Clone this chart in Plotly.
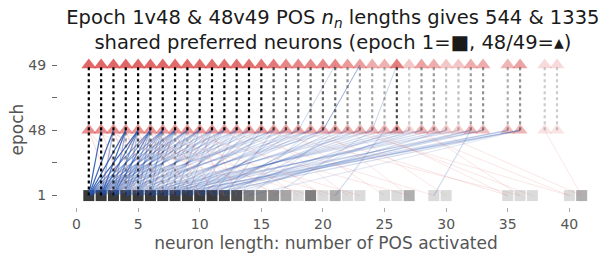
import numpy as np
import plotly.graph_objects as go

# ---------------- data ----------------
epoch_labels = ["1", "48", "49"]

# epoch 1 preferred-neuron lengths and neuron counts
e1_len = [1, 2, 3, 4, 5, 6, 7, 8, 9, 10, 11, 12, 13, 14, 15, 16, 17, 18, 19, 20,
          21, 22, 23, 25, 26, 27, 29, 30, 35, 36, 37, 40, 41]
e1_cnt = [120, 95, 80, 70, 60, 55, 45, 40, 35, 30, 26, 19, 18, 13, 12, 12, 9, 3, 13, 3,
          8, 3, 3, 3, 3, 8, 3, 3, 3, 3, 3, 3, 8]

# epoch 48 / 49 lengths and neuron counts
tri_len = list(range(1, 34)) + [35, 36, 38, 39]
e48_cnt = [24, 24, 24, 23, 23, 23, 22, 22, 22, 22, 22, 21, 21, 21, 21, 20, 20, 19, 19, 19,
           19, 17, 17, 16, 15, 21, 8, 16, 14, 10, 10, 16, 14, 14, 16, 6, 6]
e49_cnt = [34, 34, 34, 34, 33, 33, 33, 32, 32, 32, 32, 31, 31, 31, 30, 29, 26, 26, 26, 26,
           26, 22, 21, 18, 17, 28, 12, 20, 18, 12, 12, 18, 18, 16, 20, 8, 8]

# shared neurons, epoch 48 -> 49 (same length, dotted)
e48_49_shared = [30, 30, 30, 30, 30, 30, 29, 29, 29, 28, 28, 28, 27, 27, 26, 20, 18, 18, 17, 17,
                 17, 12, 11, 10, 9, 20, 6, 12, 11, 7, 7, 11, 12, 9, 12, 5, 5]
# shared neurons, epoch 48 -> 49 (length changed)
e48_49_src = [20, 18, 24]
e48_49_dst = [23, 21, 26]
e48_49_n = [2, 1, 1]

# shared neurons, epoch 1 -> 48 (same length, dotted)
e1_48_same_len = [1, 2, 3, 4, 5, 6, 7, 8, 9]
e1_48_same_n = [30, 26, 20, 10, 18, 14, 8, 8, 5]

# shared neurons, epoch 1 -> 48 (length changed)
e1_48_src = [1, 1, 1, 1, 1, 1, 1, 1, 1, 1, 1, 1, 1, 1,
             2, 2, 2, 2, 2, 2, 2, 2, 2, 2, 2, 2,
             3, 3, 3, 3, 3, 3, 3, 3, 3, 3, 3, 3,
             4, 4, 4, 4, 4, 4, 4, 4, 4, 4, 4,
             5, 5, 5, 5, 5, 5, 5, 5, 5, 5, 5,
             6, 6, 6, 6, 6, 6, 6, 6, 6, 6,
             7, 7, 7, 7, 7, 7, 7, 7, 7,
             8, 8, 8, 8, 8, 8, 8,
             9, 9, 9, 9, 9, 9,
             10, 10, 10, 10, 10,
             11, 11, 11, 11,
             12, 12, 12, 13, 13, 14, 14, 16, 21, 29,
             3, 4, 5, 6, 7, 8, 9, 10, 11, 12, 13,
             5, 8, 10, 12, 14, 16, 18, 20, 22, 25, 27, 30,
             35, 36, 37, 40, 41, 41, 40, 35, 36, 29, 27, 23, 21, 19, 17]
e1_48_dst = [2, 3, 4, 5, 6, 7, 8, 9, 10, 11, 12, 13, 15, 17,
             3, 4, 5, 6, 7, 8, 9, 10, 12, 14, 16, 19,
             4, 5, 6, 7, 8, 9, 10, 11, 13, 16, 18, 21,
             5, 6, 7, 8, 10, 12, 14, 17, 20, 24, 28,
             6, 7, 8, 9, 11, 13, 15, 19, 23, 27, 31,
             7, 8, 10, 12, 14, 18, 22, 26, 30, 33,
             9, 11, 13, 16, 20, 25, 29, 35, 36,
             10, 12, 15, 19, 24, 32, 36,
             11, 14, 18, 23, 33, 35,
             13, 17, 21, 28, 36,
             15, 20, 26, 32,
             16, 22, 30, 19, 27, 21, 36, 24, 25, 32,
             1, 2, 3, 4, 5, 6, 7, 8, 9, 10, 11,
             1, 3, 5, 6, 8, 9, 10, 12, 15, 17, 20, 22,
             24, 28, 23, 27, 29, 38, 22, 18, 15, 12, 8, 5, 3, 2, 1]
e1_48_n = [14, 14, 14, 13, 9, 7, 6, 5, 4, 4, 3, 3, 2, 2,
           6, 13, 12, 8, 6, 5, 4, 4, 3, 2, 2, 2,
           6, 9, 11, 6, 5, 4, 3, 3, 2, 2, 2, 2,
           5, 6, 5, 4, 3, 3, 2, 2, 2, 2, 2,
           5, 5, 4, 3, 3, 2, 2, 2, 2, 2, 2,
           4, 4, 3, 3, 2, 2, 2, 2, 2, 2,
           3, 3, 2, 2, 2, 2, 2, 2, 2,
           3, 2, 2, 2, 2, 2, 2,
           2, 2, 2, 2, 2, 2,
           2, 2, 2, 2, 2,
           2, 2, 2, 2,
           2, 2, 2, 1, 1, 1, 1, 1, 2, 2,
           3, 3, 3, 3, 3, 3, 3, 3, 2, 2, 2,
           2, 2, 2, 2, 1, 1, 1, 1, 1, 1, 1, 1,
           1, 1, 1, 1, 1, 1, 1, 1, 1, 1, 1, 1, 1, 1, 1]

x_ticks = [0, 5, 10, 15, 20, 25, 30, 35, 40]

title = ("Epoch 1v48 & 48v49 POS <i>n<sub>n</sub></i> lengths gives 544 & 1335<br>"
         "shared preferred neurons (epoch 1=■, 48/49=▴)")

# ---------------- figure ----------------
Y = {"1": 0, "48": 1, "49": 2}
fig = go.Figure()

# epoch 1 squares
fig.add_trace(go.Scatter(
    x=e1_len, y=[Y["1"]] * len(e1_len), mode="markers",
    marker=dict(symbol="square", size=11, color="#3a3a3a",
                opacity=list(np.clip(np.array(e1_cnt) / 20.0, 0.18, 1.0)),
                line=dict(width=0)),
    hoverinfo="skip", showlegend=False))

# triangles epoch 48 / 49
for key, cnt in (("48", e48_cnt), ("49", e49_cnt)):
    fig.add_trace(go.Scatter(
        x=tri_len, y=[Y[key]] * len(tri_len), mode="markers",
        marker=dict(symbol="triangle-up", size=13, color="rgb(216,60,60)",
                    opacity=list(np.clip(np.array(cnt) / 42.0, 0.12, 0.78)),
                    line=dict(width=0)),
        hoverinfo="skip", showlegend=False))


def seg(x0, y0, x1, y1, rgb, alpha, width, dash="solid"):
    fig.add_trace(go.Scatter(
        x=[x0, x1], y=[y0, y1], mode="lines",
        line=dict(color=f"rgba({rgb},{alpha:.3f})", width=width, dash=dash),
        hoverinfo="skip", showlegend=False))


# epoch 1 -> 48 changed-length links
for s, d, n in zip(e1_48_src, e1_48_dst, e1_48_n):
    if d > s:
        seg(s, Y["1"], d, Y["48"], "40,85,175", min(0.06 * n + 0.08, 0.9), 1.2)
    else:
        seg(s, Y["1"], d, Y["48"], "225,110,110", min(0.05 * n + 0.12, 0.5), 1.0)

# epoch 48 -> 49 changed-length links
for s, d, n in zip(e48_49_src, e48_49_dst, e48_49_n):
    seg(s, Y["48"], d, Y["49"], "40,85,175", 0.25 * n, 1.0)

# same-length dotted links
for L, n in zip(e1_48_same_len, e1_48_same_n):
    seg(L, Y["1"], L, Y["48"], "0,0,0", min(n / 25.0, 1.0), 2.2, "dot")
for L, n in zip(tri_len, e48_49_shared):
    seg(L, Y["48"], L, Y["49"], "0,0,0", float(np.clip(n / 28.0, 0.2, 1.0)), 2.2, "dot")

fig.update_layout(
    width=603, height=257,
    margin=dict(l=58, r=9, t=52, b=50, autoexpand=False),
    paper_bgcolor="white", plot_bgcolor="white",
    font=dict(family="DejaVu Sans", color="#555555", size=14),
    title=dict(text=title, x=0.552, xref="container", xanchor="center",
               yref="container", y=0.908, yanchor="middle",
               font=dict(size=19.5, color="#1a1a1a", family="DejaVu Sans")),
    xaxis=dict(range=[-1.5, 42], tickvals=x_ticks, ticks="outside", ticklen=4,
               tickcolor="#aaaaaa", showgrid=False, zeroline=False, showline=False,
               automargin=False,
               title=dict(text="neuron length: number of POS activated",
                          font=dict(size=17, color="#555555"), standoff=6),
               tickfont=dict(size=14, color="#555555")),
    yaxis=dict(range=[-0.175, 2.2], tickvals=[0, 0.5, 1, 1.5, 2],
               ticktext=["1", "", "48", "", "49"], ticks="outside", ticklen=5,
               tickcolor="#666666", showgrid=False, zeroline=False, showline=False,
               automargin=False, ticklabelstandoff=3,
               title=dict(text="epoch", font=dict(size=17, color="#555555"), standoff=0),
               tickfont=dict(size=14, color="#555555")),
)

fig.write_html("out.html", config={"displayModeBar": False},
               post_script="document.body.style.margin='0';")
